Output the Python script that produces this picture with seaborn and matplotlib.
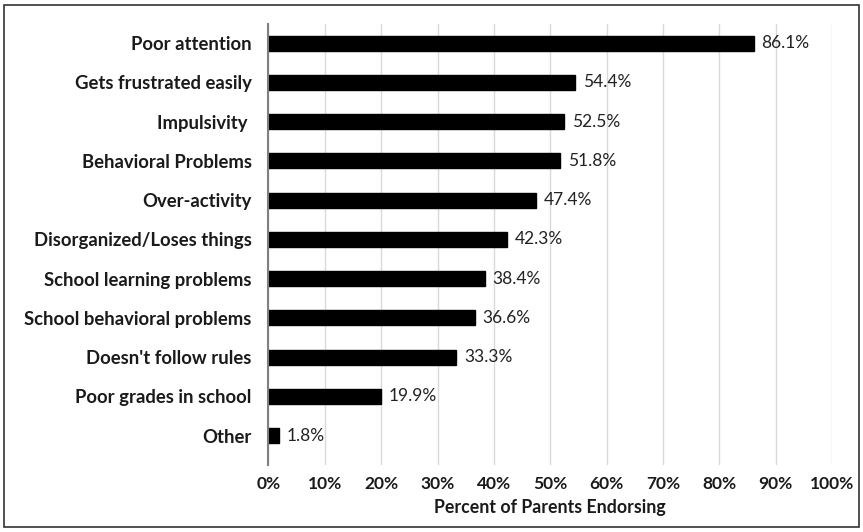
import matplotlib
matplotlib.use("Agg")
import matplotlib.pyplot as plt
import seaborn as sns
import pandas as pd
from matplotlib.patches import Rectangle

categories = ["Poor attention", "Gets frustrated easily", "Impulsivity ", "Behavioral Problems",
              "Over-activity", "Disorganized/Loses things", "School learning problems",
              "School behavioral problems", "Doesn't follow rules", "Poor grades in school", "Other"]
values = [86.1, 54.4, 52.5, 51.8, 47.4, 42.3, 38.4, 36.6, 33.3, 19.9, 1.8]
xticks = [0, 10, 20, 30, 40, 50, 60, 70, 80, 90, 100]

df = pd.DataFrame({"cat": categories, "val": values})

sns.set_style("white")
plt.rcParams['font.family'] = ['Lato', 'DejaVu Sans']

fig = plt.figure(figsize=(8.63, 5.32), dpi=100)
ax = fig.add_axes([0.3111, 0.1259, 0.9641 - 0.3111, 0.9549 - 0.1259])

sns.barplot(data=df, x="val", y="cat", color="black", width=0.38, ax=ax, orient="h",
            saturation=1)
for p in ax.patches:
    p.set_edgecolor("black")

for i, v in enumerate(values):
    ax.text(v + 1.4, i, f"{v:.1f}%", va="center", ha="left", fontsize=12.5, color="#222222")

ax.set_xlim(0, 100)
ax.set_ylim(10.75, -0.49)
ax.set_xticks(xticks)
ax.set_xticklabels([f"{t}%" for t in xticks], fontsize=12.5, fontweight="bold", color="#1a1a1a")
ax.set_yticklabels(categories, fontsize=13.3, fontweight="bold", color="#1a1a1a")
ax.tick_params(axis="x", length=0, pad=8)
ax.tick_params(axis="y", length=0, pad=12)
ax.set_xlabel("Percent of Parents Endorsing", fontsize=12.8, fontweight="bold", color="#1a1a1a", labelpad=5)
ax.set_ylabel("")
ax.grid(axis="x", color="#d9d9d9", linewidth=1)
ax.set_axisbelow(True)
for s in ["top", "right", "bottom"]:
    ax.spines[s].set_visible(False)
ax.spines["left"].set_color("#808080")
ax.spines["left"].set_linewidth(1.5)
ax.spines["left"].set_zorder(5)

fig.patches.append(Rectangle((4/863, 1 - 527/532), 855/863, 522/532, transform=fig.transFigure,
                             fill=False, edgecolor="#333333", linewidth=1.2))

fig.savefig("out.png", dpi=100)
